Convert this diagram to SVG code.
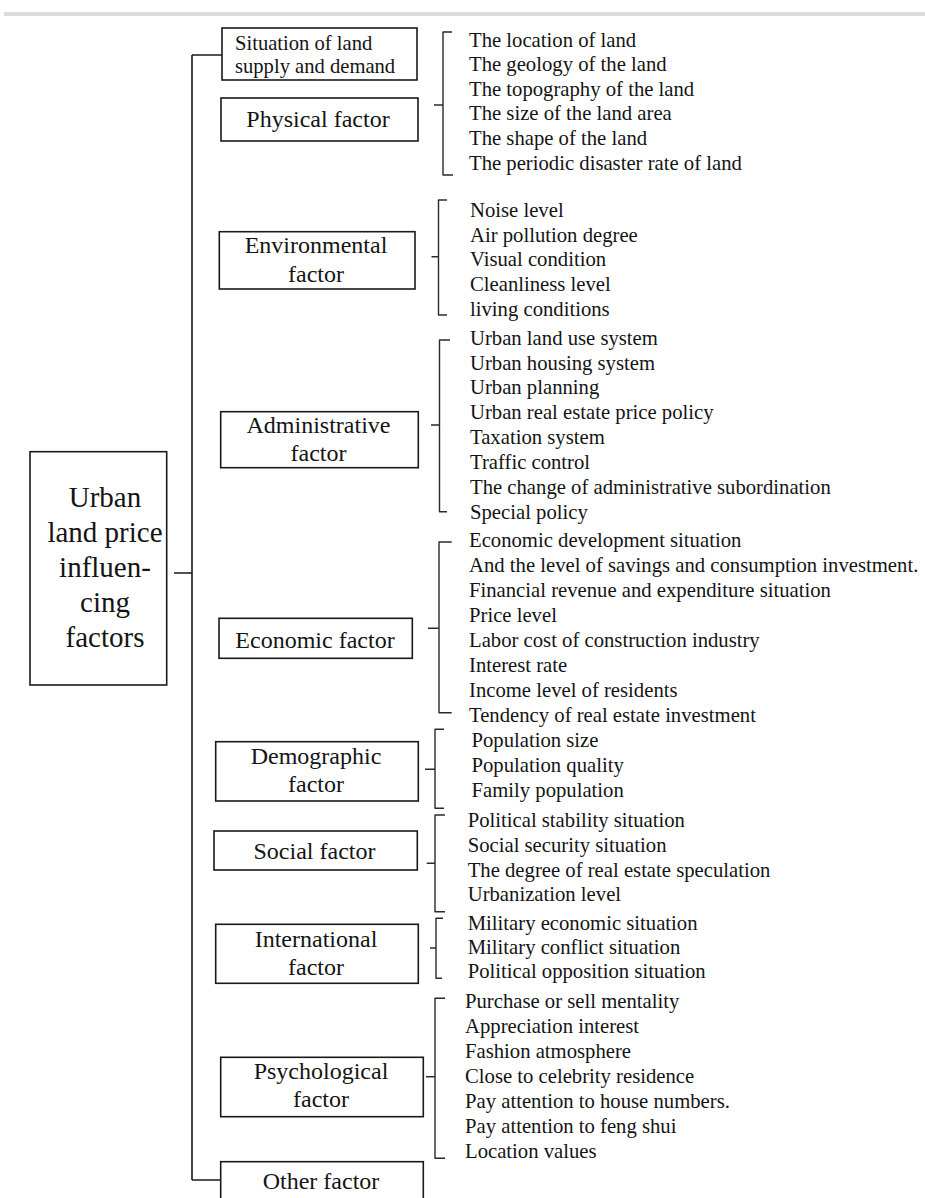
<svg xmlns="http://www.w3.org/2000/svg" width="925" height="1198" viewBox="0 0 925 1198">
<style>
text{fill:#141414}
.box{fill:#fff;stroke:#1a1a1a;stroke-width:1.6}
.bt{font-size:24px;text-anchor:middle}
.st{font-size:20.6px}
.li{font-size:20.7px}
.main{font-size:29px;text-anchor:middle}
.ln{fill:none;stroke:#1a1a1a;stroke-width:1.6}
.br{fill:none;stroke:#2a2a2a;stroke-width:1.4;stroke-linejoin:round}
</style>
<rect x="0" y="0" width="925" height="1198" fill="#fff"/>
<rect x="4" y="12" width="921" height="4" fill="#dcdcdc"/>

<g id="connectors">
<path class="ln" d="M192,55 V1180 M192,55 H222 M192,1180 H221 M174,573 H192"/>
<path class="br" d="M452,32 H443 V175 H453 M434,105 H443"/>
<path class="br" d="M447,200 H438.5 V315 H447 M431.5,256.7 H438.5"/>
<path class="br" d="M450,340 H439.5 V511.7 H447 M431,425 H439.5"/>
<path class="br" d="M451.7,542 H439 V712.7 H451.7 M428,628.3 H439"/>
<path class="br" d="M444,729.3 H435 V808.3 H444 M425,769.3 H435"/>
<path class="br" d="M445,815 H435 V911.7 H445 M426.7,863.3 H435"/>
<path class="br" d="M443,918.3 H436 V978.3 H442 M430,948 H436"/>
<path class="br" d="M445,998.3 H435 V1158.3 H445 M426,1076.7 H435"/>
</g>

<g font-family="'Liberation Serif', 'Times New Roman', serif">
<g id="root">
<rect class="box" x="30" y="451.7" width="136.7" height="233.3"/>
<text class="main" x="105" y="506.7">Urban</text>
<text class="main" x="105" y="541.7">land price</text>
<text class="main" x="105" y="576.7">influen-</text>
<text class="main" x="105" y="611.7">cing</text>
<text class="main" x="105" y="646.7">factors</text>
</g>

<g id="supply">
<rect class="box" x="222" y="28" width="195" height="52"/>
<text class="st" x="235" y="50">Situation of land</text>
<text class="st" x="235" y="73.3">supply and demand</text>
</g>

<g id="physical">
<rect class="box" x="221" y="98" width="197" height="43"/>
<text class="bt" x="318" y="127.3">Physical factor</text>
<g class="li">
<text x="469" y="46.5">The location of land</text>
<text x="469" y="71">The geology of the land</text>
<text x="469" y="95.5">The topography of the land</text>
<text x="469" y="120.3">The size of the land area</text>
<text x="469" y="145">The shape of the land</text>
<text x="469" y="169.5">The periodic disaster rate of land</text>
</g>
</g>

<g id="environmental">
<rect class="box" x="219.3" y="231.7" width="195.7" height="57.3"/>
<text class="bt" x="316" y="253.3">Environmental</text>
<text class="bt" x="316" y="281.7">factor</text>
<g class="li">
<text x="470" y="216.7">Noise level</text>
<text x="470" y="241.5">Air pollution degree</text>
<text x="470" y="266.3">Visual condition</text>
<text x="470" y="291.1">Cleanliness level</text>
<text x="470" y="315.9">living conditions</text>
</g>
</g>

<g id="administrative">
<rect class="box" x="220.7" y="411.7" width="197.6" height="56"/>
<text class="bt" x="318.5" y="433.3">Administrative</text>
<text class="bt" x="318.5" y="461">factor</text>
<g class="li">
<text x="470" y="345">Urban land use system</text>
<text x="470" y="369.5">Urban housing system</text>
<text x="470" y="394.3">Urban planning</text>
<text x="470" y="419.3">Urban real estate price policy</text>
<text x="470" y="444.2">Taxation system</text>
<text x="470" y="469.3">Traffic control</text>
<text x="470" y="494.2">The change of administrative subordination</text>
<text x="470" y="519.3">Special policy</text>
</g>
</g>

<g id="economic">
<rect class="box" x="219" y="618.3" width="193.3" height="40"/>
<text class="bt" x="315" y="648.3">Economic factor</text>
<g class="li">
<text x="469" y="546.7">Economic development situation</text>
<text x="469" y="571.7">And the level of savings and consumption investment.</text>
<text x="469" y="597">Financial revenue and expenditure situation</text>
<text x="469" y="621.9">Price level</text>
<text x="469" y="646.8">Labor cost of construction industry</text>
<text x="469" y="671.7">Interest rate</text>
<text x="469" y="696.7">Income level of residents</text>
<text x="469" y="722">Tendency of real estate investment</text>
</g>
</g>

<g id="demographic">
<rect class="box" x="215.7" y="741.7" width="202.6" height="59.3"/>
<text class="bt" x="316" y="764">Demographic</text>
<text class="bt" x="316" y="791.7">factor</text>
<g class="li">
<text x="471.5" y="746.7">Population size</text>
<text x="471.5" y="771.7">Population quality</text>
<text x="471.5" y="796.7">Family population</text>
</g>
</g>

<g id="social">
<rect class="box" x="214" y="831" width="203.3" height="39"/>
<text class="bt" x="314.5" y="859.3">Social factor</text>
<g class="li">
<text x="467.7" y="826.7">Political stability situation</text>
<text x="467.7" y="851.7">Social security situation</text>
<text x="467.7" y="876.7">The degree of real estate speculation</text>
<text x="467.7" y="900.9">Urbanization level</text>
</g>
</g>

<g id="international">
<rect class="box" x="215.7" y="924.3" width="202.6" height="59"/>
<text class="bt" x="316" y="947">International</text>
<text class="bt" x="316" y="975">factor</text>
<g class="li">
<text x="467.7" y="930">Military economic situation</text>
<text x="467.7" y="954.2">Military conflict situation</text>
<text x="467.7" y="978.3">Political opposition situation</text>
</g>
</g>

<g id="psychological">
<rect class="box" x="220.7" y="1057.3" width="202.6" height="59.4"/>
<text class="bt" x="321" y="1079.3">Psychological</text>
<text class="bt" x="321" y="1106.7">factor</text>
<g class="li">
<text x="465" y="1008.3">Purchase or sell mentality</text>
<text x="465" y="1033.3">Appreciation interest</text>
<text x="465" y="1058.3">Fashion atmosphere</text>
<text x="465" y="1082.9">Close to celebrity residence</text>
<text x="465" y="1108.3">Pay attention to house numbers.</text>
<text x="465" y="1133.3">Pay attention to feng shui</text>
<text x="465" y="1158.3">Location values</text>
</g>
</g>

<g id="other">
<rect class="box" x="220.7" y="1161.7" width="202.6" height="45"/>
<text class="bt" x="321" y="1189.3">Other factor</text>
</g>
</g>
</svg>
